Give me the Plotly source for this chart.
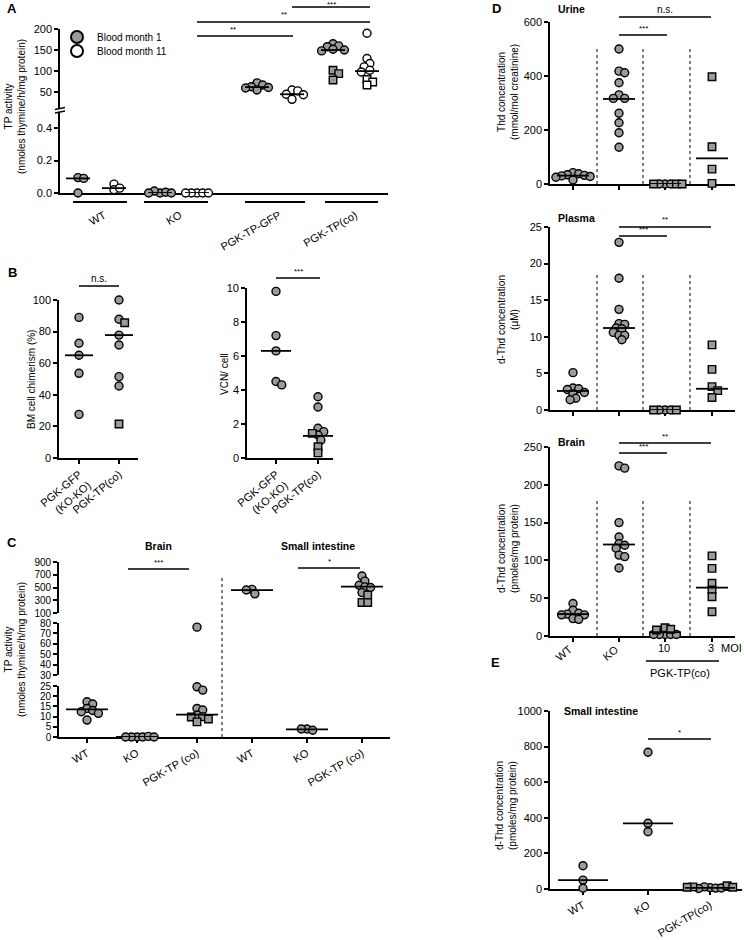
import numpy as np
import plotly.graph_objects as go

W, H = 744, 940
FONT = "Liberation Sans, Arial, Helvetica, sans-serif"
GRAY = "#9b9b9b"
LW = 1.6

# ---------------- data ----------------
# A: TP activity in blood, month 1 vs month 11
a_groups = ["WT", "KO", "PGK-TP-GFP", "PGK-TP(co)"]
a_m1_circ = [[0.095, 0.09, 0.0], [0.0, 0.005, 0.012, 0.0, 0.0],
             [72, 67, 63, 61, 60, 55], [165, 160, 158, 152, 150, 148]]
a_m1_sq = [[], [], [], [102, 94, 79]]
a_m11_circ = [[0.055, 0.02, 0.03], [0.0, 0.0, 0.0, 0.0, 0.0],
              [55, 53, 45, 44, 33], [190, 130, 118, 110, 102, 98]]
a_m11_sq = [[], [], [], [80, 74, 67]]
a_m1_med = [0.09, 0.0, 62, 150]
a_m11_med = [0.03, 0.0, 45, 100]

# B: BM chimerism and VCN
b_groups = ["PGK-GFP<br>(KO-KO)", "PGK-TP(co)"]
b_chim_circ = [[89, 72.6, 65, 53.6, 27.6], [100, 87.8, 77.8, 71.5, 51.5, 45.6]]
b_chim_sq = [[], [100.6, 85.6, 21.5]]
b_chim_med = [65, 77.8]
b_vcn_circ = [[9.8, 7.2, 6.3, 4.5, 4.3], [3.6, 3.0, 1.75, 1.55, 1.35, 1.05]]
b_vcn_sq = [[], [1.45, 0.66, 0.3]]
b_vcn_med = [6.3, 1.3]

# C: TP activity in brain / small intestine
c_groups = ["WT", "KO", "PGK-TP (co)"]
c_brain_circ = [[17.3, 16.2, 14, 13, 12.4, 11.6, 8.3], [0, 0, 0, 0.3, 0, 0],
                [76, 24.6, 23, 14, 13.2, 10.8, 10]]
c_brain_sq = [[], [], [9.8, 8.8, 7.4]]
c_brain_med = [13.5, 0, 11]
c_int_circ = [[470, 400, 460], [3.9, 3.3, 3.9], [680, 600, 535, 510, 500, 420]]
c_int_sq = [[], [], [380, 265, 265]]
c_int_med = [460, 3.7, 515]

# D: Thd / d-Thd in urine, plasma, brain
d_groups = ["WT", "KO", "10", "3"]
d_urine_circ = [[42, 38, 34, 32, 30, 28, 25, 15],
                [500, 418, 412, 375, 330, 317, 317, 262, 227, 190, 136], [0, 0, 0], []]
d_urine_sq = [[], [], [0, 0, 0], [397, 138, 55, 2.5]]
d_urine_med = [31, 315, 0, 95]
d_plasma_circ = [[5.1, 3.0, 2.9, 2.8, 2.4, 2.2, 1.6, 1.4],
                 [22.9, 18, 13.75, 11.8, 11.7, 11.2, 11.1, 10.6, 10.2, 10.2, 9.6], [0, 0, 0], []]
d_plasma_sq = [[], [], [0, 0], [8.9, 5.55, 3.2, 2.65, 1.7]]
d_plasma_med = [2.6, 11.2, 0, 2.9]
d_brain_circ = [[43, 34, 30, 29, 28, 28, 23, 22],
                [225, 222, 150, 131, 122, 120, 116, 107, 105, 90], [2, 2, 2, 2, 2], []]
d_brain_sq = [[], [], [11, 9, 8], [106, 89.5, 69.7, 60.8, 52, 32]]
d_brain_med = [29, 121, 5, 64]

# E: d-Thd in small intestine
e_groups = ["WT", "KO", "PGK-TP(co)"]
e_circ = [[131, 50, 4], [768, 369, 322], [8, 5, 12, 6, 3]]
e_sq = [[], [], [18, 12, 10, 10]]
e_med = [50, 369, 6]

# ---------------- helpers ----------------
fig = go.Figure()
axes, shapes, annots = {}, [], []
buckets, medians = {}, []
n_ax = [0]
D_PX = 9.5


def make_axes(x0, x1, yb, yt, lo, hi, yticks, **ykw):
    n_ax[0] += 1
    s = "" if n_ax[0] == 1 else str(n_ax[0])
    xa = dict(domain=[x0 / W, x1 / W], range=[0, x1 - x0], anchor="y" + s,
              visible=False, fixedrange=True, automargin=False)
    ya = dict(domain=[1 - yb / H, 1 - yt / H], range=[lo, hi], anchor="x" + s,
              showline=True, linecolor="black", linewidth=LW, showgrid=False,
              zeroline=False, ticks="outside", ticklen=4, tickwidth=LW,
              tickcolor="black", tickvals=yticks, automargin=False,
              tickfont=dict(size=11, color="black"), fixedrange=True,
              layer="below traces")
    ya.update(ykw)
    axes["xaxis" + s] = xa
    axes["yaxis" + s] = ya
    return dict(x="x" + s, y="y" + s, lo=lo, hi=hi, yb=yb, yt=yt, xa=xa)


def bottom_axis(seg, tickvals, ticktext=None, angle=-30, ticklen=4,
                tickcolor="black"):
    seg["xa"].update(visible=True, showline=True, linecolor="black",
                     linewidth=LW, showgrid=False, zeroline=False,
                     ticks="outside", ticklen=ticklen, tickwidth=LW,
                     tickcolor=tickcolor, tickvals=tickvals,
                     ticktext=ticktext, showticklabels=ticktext is not None,
                     tickangle=angle, tickfont=dict(size=11, color="black"),
                     layer="below traces")


def place(segs, v):
    for s in segs:
        if s["lo"] <= v <= s["hi"]:
            return s
    return min(segs, key=lambda s: min(abs(v - s["lo"]), abs(v - s["hi"])))


def ypix(s, v):
    return s["yb"] - (v - s["lo"]) / (s["hi"] - s["lo"]) * (s["yb"] - s["yt"])


def swarm(ys, d=D_PX, step=0.3, mind=0.55):
    placed, offs = [], []
    for y in ys:
        k = 0
        while True:
            cands = [0.0] if k == 0 else [k * step * d, -k * step * d]
            hit = None
            for ox in cands:
                if all((ox - px) ** 2 + (y - py) ** 2 >= (mind * d) ** 2
                       for px, py in placed):
                    hit = ox
                    break
            if hit is not None:
                break
            k += 1
        placed.append((hit, y))
        offs.append(hit)
    return offs


def dots(segs, centre, circ, sq, fill=GRAY, med=None, hw=12):
    vals = list(circ) + list(sq)
    syms = ["circle"] * len(circ) + ["square"] * len(sq)
    offs = swarm([ypix(place(segs, v), v) for v in vals])
    for v, sym, o in zip(vals, syms, offs):
        s = place(segs, v)
        b = buckets.setdefault((s["x"], s["y"], sym, fill), ([], []))
        b[0].append(centre + o)
        b[1].append(v)
    if med is not None:
        s = place(segs, med)
        medians.append((s["x"], s["y"], [centre - hw, centre + hw], [med, med]))


def hline(xref, xa, xb, ypx, width=LW):
    shapes.append(dict(type="line", xref=xref, yref="paper", x0=xa, x1=xb,
                       y0=1 - ypx / H, y1=1 - ypx / H,
                       line=dict(color="black", width=width)))


def vline(xref, x, ytop, ybot):
    shapes.append(dict(type="line", xref=xref, yref="paper", x0=x, x1=x,
                       y0=1 - ybot / H, y1=1 - ytop / H,
                       line=dict(color="black", width=1, dash="dot")))


def sig(seg, xa, xb, ypx, text, tx=None):
    hline(seg["x"], xa, xb, ypx)
    size = 10 if text == "n.s." else 8
    lift = 0.5 if ypx > 12 else -4
    annots.append(dict(xref=seg["x"], yref="paper",
                       x=tx if tx is not None else (xa + xb) / 2,
                       y=1 - (ypx - lift) / H, text=text, showarrow=False,
                       yanchor="bottom", font=dict(size=size)))


def text(xpx, ypx, t, size=10, bold=False, angle=0, xanchor="center", yanchor="middle"):
    annots.append(dict(xref="paper", yref="paper", x=xpx / W, y=1 - ypx / H,
                       text="<b>%s</b>" % t if bold else t, showarrow=False,
                       textangle=angle, xanchor=xanchor, yanchor=yanchor,
                       font=dict(size=size)))


# ---------------- panel A ----------------
a_lo = make_axes(60, 388, 193, 112, 0, 0.5, [0, 0.2, 0.4], tickformat=".1f")
a_hi = make_axes(60, 388, 109, 29, 10, 200, [50, 100, 150, 200])
a_segs = [a_lo, a_hi]
a_c1 = [18, 100, 197, 273]
a_c11 = [54, 137, 232, 307]
a_bars = [(13, 67), (84, 148), (185, 245), (265, 318)]
bottom_axis(a_lo, [(l + r) / 2 + 4 for l, r in a_bars], a_groups,
            ticklen=10, tickcolor="rgba(0,0,0,0)")
for i in range(4):
    dots(a_segs, a_c1[i], a_m1_circ[i], a_m1_sq[i], GRAY, a_m1_med[i], 12)
    dots(a_segs, a_c11[i], a_m11_circ[i], a_m11_sq[i], "white", a_m11_med[i], 12)
for l, r in a_bars:
    hline(a_lo["x"], l, r, 202, width=2)
sig(a_lo, 137, 233, 36, "**", tx=173)
sig(a_lo, 137, 310, 22, "**")
sig(a_lo, 232, 310, 7, "***")
for yb in (108.5, 112):
    shapes.append(dict(type="line", xref="paper", yref="paper",
                       x0=55 / W, x1=65 / W, y0=1 - (yb + 1) / H, y1=1 - (yb - 1) / H,
                       line=dict(color="black", width=1.4)))
text(12, 8, "A", 13, True)
text(15, 107, "TP activity<br>(nmoles thymine/h/mg protein)", 10, angle=-90)

# ---------------- panel B ----------------
b_l = make_axes(59, 138, 458, 300, 0, 100, [0, 20, 40, 60, 80, 100])
b_r = make_axes(247, 333, 458, 288, 0, 10, [0, 2, 4, 6, 8, 10])
bottom_axis(b_l, [20, 60], b_groups, angle=-40)
bottom_axis(b_r, [29, 71], b_groups, angle=-40)
for i, c in enumerate([20, 60]):
    dots([b_l], c, b_chim_circ[i], b_chim_sq[i], GRAY, b_chim_med[i], 14)
for i, c in enumerate([29, 71]):
    dots([b_r], c, b_vcn_circ[i], b_vcn_sq[i], GRAY, b_vcn_med[i], 15)
sig(b_l, 20, 60, 286, "n.s.")
sig(b_r, 29, 73, 278, "***")
text(13, 272, "B", 13, True)
text(31, 380, "BM cell chimerism (%)", 10, angle=-90)
text(224, 374, "VCN/ cell", 10, angle=-90)

# ---------------- panel C ----------------
c_b = make_axes(59, 390, 737, 686, 0, 25, [0, 5, 10, 15, 20, 25], tickfont=dict(size=10))
c_m = make_axes(59, 390, 675, 623, 30, 80, [30, 40, 50, 60, 70, 80], tickfont=dict(size=10))
c_t = make_axes(59, 390, 613, 562, 100, 900, [100, 300, 500, 700, 900], tickfont=dict(size=10))
c_segs = [c_b, c_m, c_t]
c_brain_x = [28, 78, 138]
c_int_x = [193, 248, 303]
bottom_axis(c_b, c_brain_x + c_int_x, c_groups * 2)
for i in range(3):
    dots(c_segs, c_brain_x[i], c_brain_circ[i], c_brain_sq[i], GRAY, c_brain_med[i], 21)
    dots(c_segs, c_int_x[i], c_int_circ[i], c_int_sq[i], GRAY, c_int_med[i], 21)
vline(c_b["x"], 163, 578, 737)
sig(c_b, 69, 130, 569, "***")
sig(c_b, 239, 301, 568, "*")
text(12, 542, "C", 13, True)
text(158, 546, "Brain", 10.5, True)
text(318, 546, "Small intestine", 10.5, True)
text(15, 650, "TP activity<br>(nmoles thymine/h/mg protein)", 10, angle=-90)

# ---------------- panel D ----------------
d_x = [23, 69, 115, 162]
d_specs = [
    (184, 22, 600, [0, 200, 400, 600], d_urine_circ, d_urine_sq, d_urine_med, 47,
     "Urine", 9, "Thd concentration<br>(mmol/mol creatinine)", 92),
    (410, 227, 25, [0, 5, 10, 15, 20, 25], d_plasma_circ, d_plasma_sq, d_plasma_med, 272,
     "Plasma", 218, "d-Thd concentration<br>(µM)", 319),
    (636, 447, 250, [0, 50, 100, 150, 200, 250], d_brain_circ, d_brain_sq, d_brain_med, 498,
     "Brain", 442, "d-Thd concentration<br>(pmoles/mg protein)", 548),
]
d_sigs = [[(69, 161, 17, "n.s."), (69, 117, 35, "***")],
          [(69, 161, 227, "**"), (69, 117, 236, "***")],
          [(69, 161, 443, "**"), (69, 117, 453, "***")]]
for k, (yb, yt, hi, ticks, circ, sq, med, dtop, title, ty, ylab, yc) in enumerate(d_specs):
    ax = make_axes(550, 735, yb, yt, 0, hi, ticks)
    bottom_axis(ax, d_x)
    for i in range(4):
        dots([ax], d_x[i], circ[i], sq[i], GRAY, med[i], 16)
    for xd in (47, 93, 140):
        vline(ax["x"], xd, dtop, yb)
    for xa, xb, yp, t in d_sigs[k]:
        sig(ax, xa, xb, yp, t)
    text(556, ty, title, 10.5, True, xanchor="left")
    text(508, yc, ylab, 10, angle=-90)
d_brain_ax = ax
text(496, 8, "D", 13, True)
for i in range(2):
    text(550 + d_x[i] + 4, 640, d_groups[i], 11, angle=-40, xanchor="right", yanchor="top")
for i in range(2, 4):
    text(550 + d_x[i] - 1, 648, d_groups[i], 11)
text(731, 648, "MOI", 11)
hline(d_brain_ax["x"], 96, 169, 661)
text(680, 673, "PGK-TP(co)", 11)

# ---------------- panel E ----------------
e_ax = make_axes(550, 742, 889, 711, 0, 1000, [0, 200, 400, 600, 800, 1000])
e_x = [33, 98, 160]
bottom_axis(e_ax, e_x, e_groups)
for i in range(3):
    dots([e_ax], e_x[i], e_circ[i], e_sq[i], GRAY, e_med[i], 25)
sig(e_ax, 98, 161, 739, "*")
text(495, 662, "E", 13, True)
text(562, 711, "Small intestine", 10.5, True, xanchor="left")
text(506, 805, "d-Thd concentration<br>(pmoles/mg protein)", 10, angle=-90)

# ---------------- traces ----------------
for (xr, yr, sym, fill), (xs, ys) in buckets.items():
    fig.add_trace(go.Scatter(
        x=xs, y=ys, xaxis=xr, yaxis=yr, mode="markers", showlegend=False,
        cliponaxis=False, hoverinfo="y",
        marker=dict(symbol=sym, size=8 if sym == "circle" else 7.5, color=fill,
                    line=dict(color="black", width=1.4))))
for xr, yr, xs, ys in medians:
    fig.add_trace(go.Scatter(x=xs, y=ys, xaxis=xr, yaxis=yr, mode="lines",
                             showlegend=False, cliponaxis=False, hoverinfo="skip",
                             line=dict(color="black", width=1.8)))
# legend entries for panel A, one legend box each so they sit close together
for name, fill, lg in [("Blood month 1", GRAY, "legend"), ("Blood month 11", "white", "legend2")]:
    fig.add_trace(go.Scatter(x=[None], y=[None], xaxis="x2", yaxis="y2", mode="markers",
                             name=name, legend=lg,
                             marker=dict(symbol="circle", size=8.5, color=fill,
                                         line=dict(color="black", width=1.4))))

leg = dict(xanchor="left", yanchor="middle", bgcolor="rgba(0,0,0,0)",
           font=dict(size=10), itemsizing="constant")
fig.update_layout(
    template="none",
    width=W, height=H, margin=dict(l=0, r=0, t=0, b=0, autoexpand=False),
    paper_bgcolor="white", plot_bgcolor="white",
    font=dict(family=FONT, size=10, color="black"),
    shapes=shapes, annotations=annots,
    legend=dict(x=57 / W, y=1 - 37 / H, **leg),
    legend2=dict(x=57 / W, y=1 - 51 / H, **leg),
    **axes)

# the page body has a default 8px margin; drop it so the chart sits at (0, 0)
fig.write_html("out.html", config={"displayModeBar": False},
               post_script="document.body.style.margin='0px';")
